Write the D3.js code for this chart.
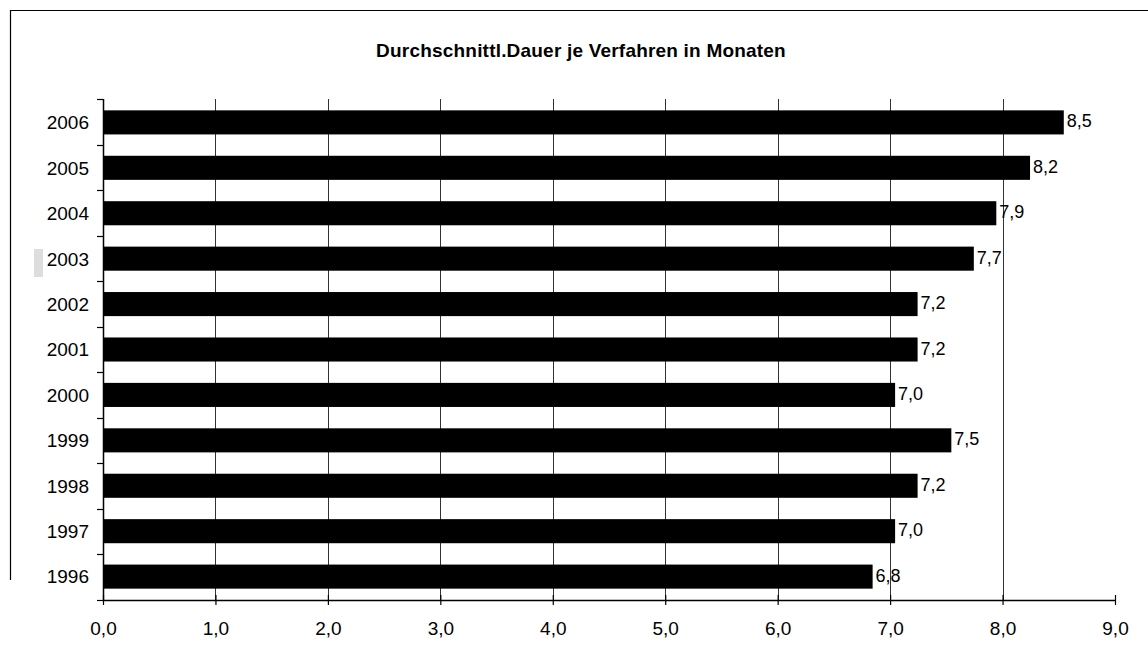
<!DOCTYPE html>
<html>
<head>
<meta charset="utf-8">
<script src="https://cdn.jsdelivr.net/npm/d3@7"></script>
<style>
  body { margin: 0; background: #fff; }
  svg { display: block; font-family: Arial, "Liberation Sans", sans-serif; }
</style>
</head>
<body>
<div id="chart"></div>
<script>
// Durchschnittliche Verfahrensdauer, Balken von oben nach unten
const years = ["2006", "2005", "2004", "2003", "2002", "2001", "2000", "1999", "1998", "1997", "1996"];
const months = [8.5, 8.2, 7.9, 7.7, 7.2, 7.2, 7.0, 7.5, 7.2, 7.0, 6.8];
const xTicks = [0, 1, 2, 3, 4, 5, 6, 7, 8, 9];

const W = 1148, H = 666;
const margin = {top: 99, right: 33, bottom: 66, left: 103};
const width = W - margin.left - margin.right;
const height = H - margin.top - margin.bottom;
const fmt = d => d3.format(".1f")(d).replace(".", ",");

const svg = d3.select("#chart")
    .append("svg")
    .attr("width", W)
    .attr("height", H);

// frame (left + top edge)
svg.append("path")
    .attr("d", "M10.5,580 V10.5 H1148")
    .attr("fill", "none")
    .attr("stroke", "#000")
    .attr("stroke-width", 1.2);

// scan artefact next to 2003
svg.append("rect")
    .attr("x", 34).attr("y", 249)
    .attr("width", 9).attr("height", 28)
    .attr("fill", "#ddd");

// Title
svg.append("text")
    .attr("x", 581)
    .attr("y", 57)
    .attr("text-anchor", "middle")
    .style("font-size", "19px")
    .style("font-weight", "bold")
    .style("letter-spacing", "0.2px")
    .text("Durchschnittl.Dauer je Verfahren in Monaten");

const g = svg.append("g")
    .attr("transform", `translate(${margin.left},${margin.top})`);

const x = d3.scaleLinear()
    .domain([0, 9])
    .range([0, width]);

const y = d3.scaleBand()
    .domain(years)
    .range([0, height])
    .paddingInner(0.47)
    .paddingOuter(0.25);

// gridlines
g.append("g")
    .selectAll("line")
    .data(xTicks.filter(d => d > 0 && d < 9))
    .enter().append("line")
    .attr("x1", d => Math.round(x(d)) + 0.5)
    .attr("x2", d => Math.round(x(d)) + 0.5)
    .attr("y1", 0)
    .attr("y2", height)
    .attr("stroke", "#333")
    .attr("stroke-width", 1);

// bars
g.append("g")
    .selectAll("rect")
    .data(years)
    .enter().append("rect")
    .attr("x", 1)
    .attr("y", d => y(d))
    .attr("width", (d, i) => x(months[i]) + 4)
    .attr("height", y.bandwidth())
    .attr("fill", "#000");

// value labels
g.append("g")
    .selectAll("text")
    .data(years)
    .enter().append("text")
    .attr("x", (d, i) => x(months[i]) + 8)
    .attr("y", d => y(d) + y.bandwidth() / 2)
    .attr("dy", "0.28em")
    .style("font-size", "18px")
    .text((d, i) => fmt(months[i]));

// y axis
const yAxis = g.append("g")
    .call(d3.axisLeft(y).tickSize(0).tickPadding(14))
    .call(a => a.select(".domain").attr("stroke", "#000").attr("stroke-width", 1.5).attr("d", `M0.5,0V${height}`));
yAxis.selectAll("text")
    .style("font-size", "19px")
    .style("font-family", "Arial, 'Liberation Sans', sans-serif")
    .attr("dy", "0.36em")
    .attr("fill", "#000");

// y band boundary ticks
g.append("g")
    .selectAll("line")
    .data(d3.range(years.length + 1))
    .enter().append("line")
    .attr("x1", -6)
    .attr("x2", 0)
    .attr("y1", i => Math.round(i * height / years.length) + 0.5)
    .attr("y2", i => Math.round(i * height / years.length) + 0.5)
    .attr("stroke", "#000")
    .attr("stroke-width", 1.2);

// x axis
const xAxis = g.append("g")
    .attr("transform", `translate(0,${height})`)
    .call(d3.axisBottom(x).tickValues(xTicks).tickSize(6).tickSizeOuter(0).tickPadding(16)
        .tickFormat(fmt));
xAxis.select(".domain").attr("stroke", "#000").attr("stroke-width", 1.5);
xAxis.selectAll(".tick line").attr("stroke", "#000").attr("stroke-width", 1.2).attr("y1", -5).attr("y2", 5);
xAxis.selectAll("text")
    .style("font-size", "19px")
    .style("font-family", "Arial, 'Liberation Sans', sans-serif")
    .attr("fill", "#000");
</script>
</body>
</html>
